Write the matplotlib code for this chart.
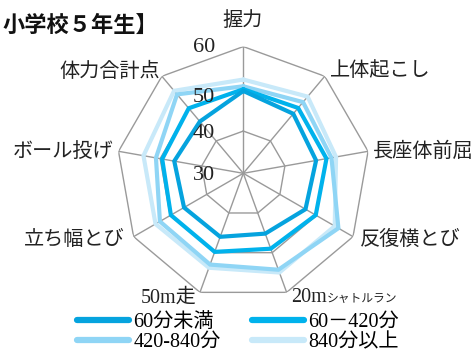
import numpy as np
import matplotlib
matplotlib.use("Agg")
import matplotlib.pyplot as plt

plt.rcParams["font.family"] = ["Liberation Serif", "Noto Sans CJK JP", "DejaVu Sans"]

W, H = 477, 356

categories = ["握力", "上体起こし", "長座体前屈", "反復横とび", "20mシャトルラン",
              "50m走", "立ち幅とび", "ボール投げ", "体力合計点"]
group_names = ["60分未満", "60－420分", "420-840分", "840分以上"]
under_60 = [49.5, 48.4, 47.5, 47.0, 45.2, 46.0, 46.2, 46.6, 46.0]
from_60_to_420 = [49.9, 50.2, 50.0, 49.8, 49.0, 49.8, 49.8, 49.5, 50.1]
from_420_to_840 = [50.6, 52.0, 51.2, 56.0, 54.3, 53.0, 52.8, 51.0, 54.4]
over_840 = [52.2, 53.7, 52.3, 55.0, 55.0, 53.8, 54.0, 54.0, 55.5]
grid_levels = [40, 50, 60]
tick_labels = ["60", "50", "40", "30"]

colors = ["#05a3de", "#00b2ec", "#8fd5f5", "#c8e9f9"]


def px(x, y):
    """Pixel position from the top-left corner -> figure fraction."""
    return x / W, 1 - y / H


fig = plt.figure(figsize=(W / 100, H / 100), dpi=100)
cx, cy, rad = 243.3, 173.3, 126.7
ax = fig.add_axes([(cx - rad) / W, (H - cy - rad) / H, 2 * rad / W, 2 * rad / H],
                  projection="polar")
ax.set_theta_offset(np.pi / 2)
ax.set_theta_direction(-1)
ax.set_ylim(30, 60)
ax.grid(False)
ax.set_xticks([])
ax.set_yticks([])
ax.spines["polar"].set_visible(False)
ax.patch.set_alpha(0)

n = len(categories)
theta = np.linspace(0, 2 * np.pi, n, endpoint=False)
closed = np.append(theta, theta[0])

# polygon grid and spokes
for lvl in grid_levels:
    ax.plot(closed, [lvl] * (n + 1), color="#9a9a9a", lw=1.0, zorder=1)
for t in theta:
    ax.plot([t, t], [30, 60], color="#9a9a9a", lw=1.0, zorder=1)

series = [under_60, from_60_to_420, from_420_to_840, over_840]
lines = []
for i in range(len(series) - 1, -1, -1):
    vals = series[i] + series[i][:1]
    ln, = ax.plot(closed, vals, color=colors[i], lw=3.0, zorder=2 + (3 - i),
                  solid_joinstyle="miter", solid_capstyle="round",
                  label=group_names[i])
    lines.insert(0, ln)

# radial value labels
for lab, y in zip(tick_labels, [48, 97, 133, 175]):
    fig.text(*px(215, y), lab, ha="right", va="center", fontsize=16, color="#222222")

# category labels
lab_kw = dict(fontsize=14.5, color="#222222", va="center")
fig.text(*px(243, 22), categories[0], ha="center", **lab_kw)
fig.text(*px(330, 72), categories[1], ha="left", **lab_kw)
fig.text(*px(373, 152), categories[2], ha="left", **lab_kw)
fig.text(*px(360, 240), categories[3], ha="left", **lab_kw)
fig.text(*px(327, 298), "20m", ha="right", **lab_kw)
fig.text(*px(327, 299), "シャトルラン", ha="left", fontsize=8.5, color="#222222", va="center")
fig.text(*px(197, 298), categories[5], ha="right", **lab_kw)
fig.text(*px(125, 240), categories[6], ha="right", **lab_kw)
fig.text(*px(113, 152), categories[7], ha="right", **lab_kw)
fig.text(*px(160, 72), categories[8], ha="right", **lab_kw)

fig.text(*px(3, 25), "小学校５年生】", ha="left", va="center", fontsize=16,
         fontweight="bold", family="Noto Sans CJK JP", color="#111111")

order = [lines[0], lines[2], lines[1], lines[3]]
fig.legend(order, [l.get_label() for l in order], ncol=2, frameon=False,
           loc="upper left", bbox_to_anchor=px(77, 313), fontsize=14.5,
           handlelength=2.6, handletextpad=0.2, columnspacing=1.55,
           borderpad=0, borderaxespad=0, labelspacing=0.05)
for lh in fig.legends[0].get_lines():
    lh.set_linewidth(4.5)

fig.savefig("out.png", dpi=100)
